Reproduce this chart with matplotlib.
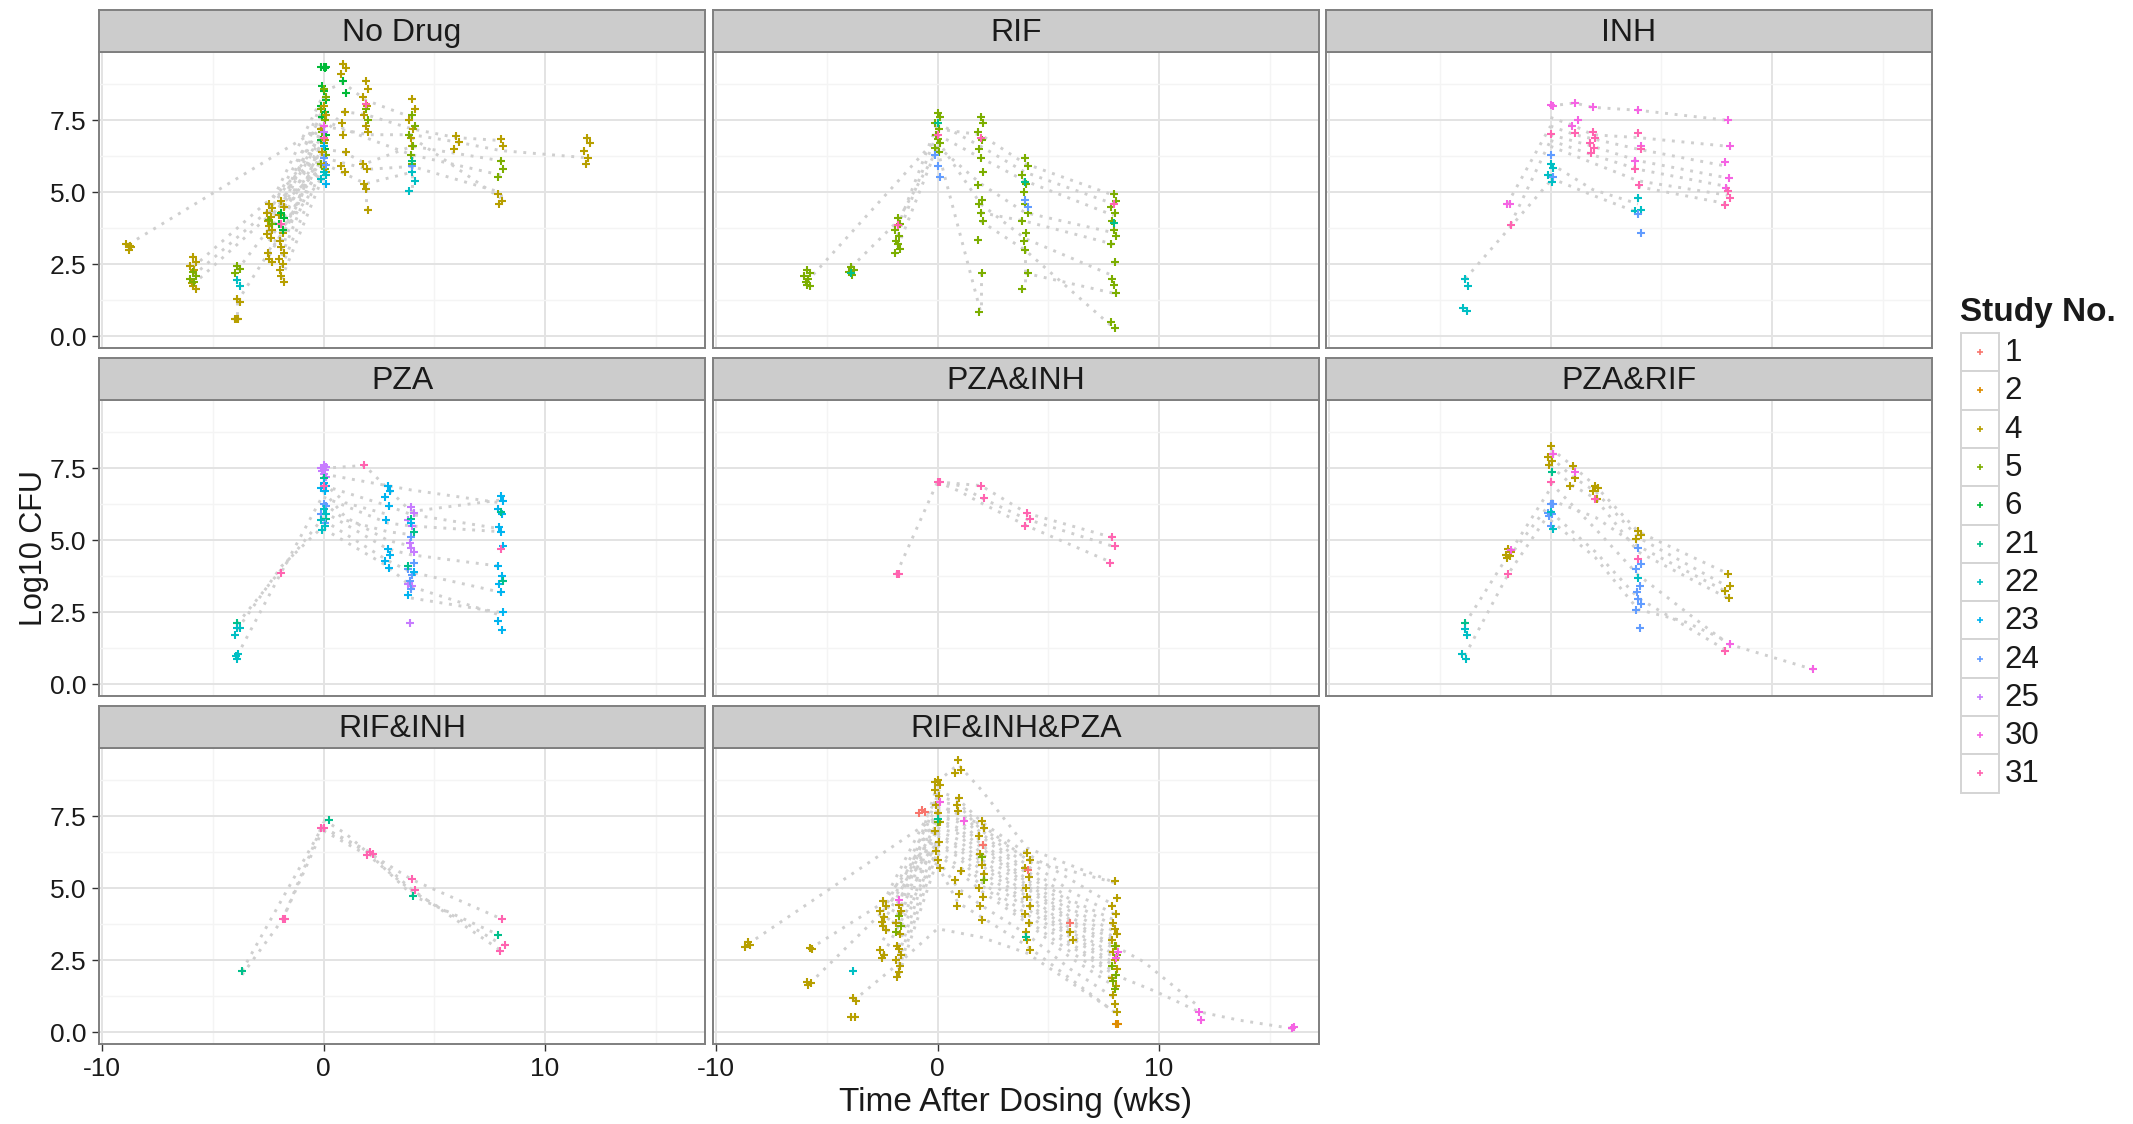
import matplotlib
matplotlib.use("Agg")
import matplotlib.pyplot as plt
from matplotlib.patches import Rectangle

# ---------------------------------------------------------------- data
study_ids = [1, 2, 4, 5, 6, 21, 22, 23, 24, 25, 30, 31]
study_colors = ["#F8766D", "#DE8C00", "#B79F00", "#7CAE00", "#00BA38", "#00C08B",
                "#00BFC4", "#00B4F0", "#619CFF", "#C77CFF", "#F564E3", "#FF64B0"]

facet_names = ["No Drug", "RIF", "INH", "PZA", "PZA&INH", "PZA&RIF",
               "RIF&INH", "RIF&INH&PZA"]

x_ticks = [-10, 0, 10]
y_ticks = [0.0, 2.5, 5.0, 7.5]
y_tick_labels = ["0.0", "2.5", "5.0", "7.5"]

# observed log10 CFU: (study, weeks after dosing, [values])
nodrug_points = [
    (4, -8.8, [3.0, 3.1, 3.2, 3.15]),
    (4, -5.9, [2.75, 2.6, 2.45, 2.3, 1.85, 1.75, 1.65]),
    (5, -5.9, [2.25, 2.1, 2.0, 1.9]),
    (5, -3.9, [2.45, 2.35, 2.2]),
    (22, -3.9, [1.95, 1.75]),
    (4, -3.9, [1.3, 1.2, 0.62, 0.6, 0.6, 0.6]),
    (4, -2.45, [4.6, 4.45, 4.3, 4.15, 4.0, 3.85, 3.7, 3.55, 3.4, 2.9, 2.7, 2.6]),
    (5, -2.45, [4.05, 3.9]),
    (4, -1.9, [4.7, 4.5, 4.2, 3.6, 3.3, 3.1, 2.9, 2.7, 2.5, 2.3, 2.1, 1.9]),
    (6, -1.9, [4.3, 4.1, 3.9, 3.7]),
    (31, -1.9, [3.9]),
    (6, 0.0, [9.35, 9.35, 9.35, 9.33, 8.7, 8.5, 8.2, 8.0, 7.8, 7.6, 7.3, 7.0, 6.8, 6.5]),
    (5, 0.0, [8.6, 8.3, 7.9, 7.5, 7.1, 6.7, 6.3, 6.0, 5.8]),
    (4, 0.0, [8.0, 7.7, 7.2, 6.8, 6.4, 6.0, 5.7]),
    (24, 0.0, [6.2, 5.95]),
    (22, 0.0, [5.7, 5.6, 5.45]),
    (23, 0.0, [6.6, 5.3]),
    (30, 0.0, [7.3]),
    (31, 0.0, [6.9]),
    (25, 0.0, [7.1]),
    (4, 0.9, [9.45, 9.3, 9.1, 7.8, 7.4, 7.0, 6.4, 5.9, 5.7]),
    (6, 0.9, [8.85, 8.45]),
    (4, 1.9, [8.85, 8.6, 8.3, 8.0, 7.7, 7.3, 7.1, 6.0, 5.8, 5.3, 5.1, 4.4]),
    (5, 1.9, [7.9, 7.5]),
    (31, 1.9, [8.05]),
    (4, 4.0, [8.25, 7.9, 7.5, 7.2, 6.9, 6.6]),
    (5, 4.0, [7.7, 7.3, 7.0, 6.6, 6.3, 6.0]),
    (22, 4.0, [5.7, 5.4, 5.05]),
    (24, 4.0, [5.9]),
    (21, 4.0, [6.1]),
    (4, 6.0, [6.95, 6.75, 6.5]),
    (4, 8.0, [6.85, 6.6, 4.95, 4.7, 4.6]),
    (5, 8.0, [6.1, 5.8, 5.55]),
    (4, 11.9, [6.9, 6.7, 6.45, 6.2, 6.0]),
]
# individual trajectories: [(weeks, log10 CFU), ...]
nodrug_paths = [
    [(-8.8, 3.2), (0.0, 7.3)],
    [(0.0, 7.3), (2.0, 7.0), (4.0, 7.0), (6.0, 6.75), (8.0, 6.45), (11.9, 6.2)],
    [(-5.9, 2.4), (0.0, 6.4)],
    [(-5.9, 1.8), (0.0, 5.9)],
    [(-5.9, 2.1), (-2.45, 4.4), (0.0, 7.0)],
    [(-3.9, 2.3), (0.0, 6.2)],
    [(-3.9, 1.2), (-2.4, 3.0), (0.0, 5.6)],
    [(-2.45, 4.0), (0.0, 7.2)],
    [(-2.45, 3.6), (0.0, 6.8)],
    [(-2.45, 2.8), (0.0, 6.3)],
    [(-2.45, 4.3), (0.0, 7.8)],
    [(-2.45, 3.3), (0.0, 6.6)],
    [(-2.45, 3.9), (0.0, 7.0)],
    [(-2.45, 3.0), (0.0, 6.0)],
    [(-1.9, 4.6), (0.0, 7.6)],
    [(-1.9, 3.3), (0.0, 6.9)],
    [(-1.9, 2.4), (0.0, 6.0)],
    [(-1.9, 2.0), (0.0, 5.6)],
    [(-1.9, 4.2), (0.0, 8.0)],
    [(-1.9, 2.8), (0.0, 6.4)],
    [(-1.9, 4.5), (0.0, 8.3)],
    [(-1.9, 3.0), (0.0, 7.0)],
    [(-1.9, 3.6), (0.0, 6.5)],
    [(-2.45, 4.5), (0.0, 8.4)],
    [(-1.9, 3.8), (0.0, 7.4)],
    [(0.0, 7.0), (0.9, 7.8), (1.9, 7.7), (4.0, 7.2), (6.0, 6.9), (8.0, 6.8)],
    [(0.0, 6.5), (0.9, 6.4), (1.9, 6.0), (4.0, 6.6), (8.0, 6.1)],
    [(0.0, 7.5), (1.9, 6.9), (4.0, 6.3), (8.0, 5.6)],
    [(0.0, 6.2), (2.0, 5.8), (4.0, 5.9), (8.0, 5.0)],
    [(0.0, 6.0), (1.9, 5.3), (4.0, 5.7)],
    [(4.0, 6.9), (8.0, 4.8)],
    [(0.0, 8.5), (0.9, 8.8), (1.9, 8.2), (4.0, 7.6)],
    [(1.9, 5.1), (1.9, 4.4)],
    [(-3.9, 1.2), (-3.9, 0.6)],
    [(8.0, 4.95), (8.0, 4.6)],
    [(4.0, 6.6), (4.0, 5.05)],
]

rif_points = [
    (5, -5.9, [2.3, 2.2, 2.1, 2.0, 1.9, 1.8, 1.75]),
    (5, -3.9, [2.4, 2.3, 2.25, 2.15]),
    (21, -3.9, [2.2]),
    (5, -1.8, [4.1, 3.9, 3.7, 3.5, 3.3, 3.2, 3.05, 2.9]),
    (31, -1.8, [3.88]),
    (5, 0.0, [7.75, 7.6, 7.4, 7.2, 7.0, 6.85, 6.7, 6.55, 6.4]),
    (21, 0.0, [7.4]),
    (24, 0.0, [5.9, 5.55, 6.3]),
    (31, 0.0, [7.0]),
    (5, 1.95, [7.6, 7.4, 7.1, 6.8, 6.5, 6.2, 5.7, 5.25, 4.75, 4.6, 4.3, 4.0, 3.35, 2.2, 0.85]),
    (31, 1.95, [6.9]),
    (5, 3.95, [6.2, 5.9, 5.6, 5.3, 5.0, 4.6, 4.3, 4.0, 3.6, 3.3, 3.0, 2.2, 1.65]),
    (21, 3.95, [5.35]),
    (24, 3.95, [4.75, 4.5]),
    (5, 7.95, [4.95, 4.7, 4.5, 4.3, 4.0, 3.7, 3.5, 3.2, 2.6, 2.0, 1.8, 1.5, 0.5, 0.3]),
    (31, 7.95, [4.6]),
    (21, 7.95, [3.95]),
]
rif_paths = [
    [(-5.9, 1.9), (0.0, 6.9)],
    [(-3.9, 2.4), (-1.8, 4.0), (0.0, 6.5)],
    [(-1.8, 3.5), (0.0, 7.1)],
    [(-1.8, 3.1), (0.0, 6.6)],
    [(-1.8, 3.8), (0.0, 7.4)],
    [(0.0, 7.2), (1.95, 7.0), (3.95, 6.0), (7.95, 4.9)],
    [(0.0, 7.4), (1.95, 6.6), (3.95, 5.7), (7.95, 4.6)],
    [(0.0, 7.0), (1.95, 6.2), (3.95, 5.4), (7.95, 4.2)],
    [(0.0, 6.6), (1.95, 5.3), (3.95, 4.3), (7.95, 3.6)],
    [(0.0, 6.8), (1.95, 4.6), (3.95, 3.4), (7.95, 2.1)],
    [(0.0, 6.5), (1.95, 0.85)],
    [(1.95, 4.0), (3.95, 3.0), (7.95, 0.3)],
    [(3.95, 2.2), (7.95, 1.5)],
    [(1.95, 4.3), (3.95, 4.0), (7.95, 3.2)],
    [(1.95, 2.2), (1.95, 0.85)],
    [(3.95, 3.0), (3.95, 1.65)],
]

inh_points = [
    (22, -3.85, [2.0, 1.75, 1.0, 0.9]),
    (30, -1.95, [4.6, 4.6]),
    (31, -1.8, [3.88]),
    (30, 0.0, [8.02, 8.0]),
    (31, 0.0, [7.04]),
    (24, 0.0, [6.3, 5.55]),
    (22, 0.0, [6.0, 5.85, 5.6, 5.35]),
    (30, 1.1, [8.1, 7.5, 7.3]),
    (31, 1.1, [7.05]),
    (30, 1.9, [7.95]),
    (31, 1.9, [7.1, 6.9, 6.7, 6.55, 6.35]),
    (30, 3.95, [7.85, 6.6, 6.1]),
    (31, 3.95, [7.05, 6.5, 5.8, 5.25]),
    (22, 3.95, [4.8, 4.4, 4.35]),
    (24, 3.95, [4.25, 3.6]),
    (30, 8.0, [7.5, 6.6, 6.05, 5.5, 5.15]),
    (31, 8.0, [5.05, 4.8, 4.55]),
]
inh_paths = [
    [(-3.85, 2.0), (0.0, 5.4)],
    [(-1.95, 4.6), (0.0, 7.3)],
    [(-1.8, 3.9), (0.0, 6.8)],
    [(0.0, 8.0), (1.1, 8.1), (1.9, 7.95), (3.95, 7.85), (8.0, 7.5)],
    [(0.0, 7.6), (1.1, 7.3), (1.9, 7.0), (3.95, 6.9), (8.0, 6.6)],
    [(0.0, 7.3), (1.1, 7.0), (3.95, 6.5), (8.0, 5.9)],
    [(0.0, 7.0), (1.9, 6.6), (3.95, 6.1), (8.0, 5.5)],
    [(0.0, 6.8), (1.9, 6.3), (3.95, 5.8), (8.0, 5.2)],
    [(0.0, 6.6), (3.95, 5.4), (8.0, 4.9)],
    [(0.0, 6.0), (1.9, 5.1), (3.95, 4.6)],
    [(0.0, 5.5), (1.9, 4.9), (3.95, 4.3)],
    [(3.95, 5.2), (8.0, 4.6)],
]

pza_points = [
    (21, -3.9, [2.15]),
    (22, -3.9, [1.95, 1.95, 1.7, 1.05, 1.0, 0.9]),
    (31, -1.9, [3.88]),
    (25, 0.0, [7.6, 7.55, 7.5, 7.45, 7.4, 7.3, 7.2]),
    (21, 0.0, [7.15, 5.75]),
    (23, 0.0, [7.0, 6.9, 6.8, 6.7]),
    (24, 0.0, [6.25, 6.2, 5.9, 5.6]),
    (22, 0.0, [6.1, 5.9, 5.7, 5.5, 5.35]),
    (31, 0.0, [6.9]),
    (31, 1.85, [7.6]),
    (23, 2.9, [6.9, 6.7, 6.5, 6.2, 5.7, 4.7, 4.5, 4.3, 4.05]),
    (25, 3.95, [6.15, 5.95, 5.7, 5.5, 4.9, 4.75, 4.6, 3.5, 3.4, 2.15]),
    (24, 3.95, [5.1, 4.2, 4.0, 3.8, 3.6, 3.3]),
    (21, 3.95, [5.75, 5.3, 4.1]),
    (23, 3.95, [5.6, 3.9, 3.1]),
    (23, 8.0, [6.55, 6.35, 6.1, 5.9, 5.45, 5.3, 4.8, 4.1, 3.75, 3.5, 3.2, 2.5, 2.2, 1.9]),
    (31, 8.0, [4.7]),
    (21, 8.0, [6.0, 3.6]),
]
pza_paths = [
    [(-3.9, 2.1), (0.0, 5.8)],
    [(-3.9, 1.0), (-1.9, 3.9), (0.0, 6.6)],
    [(-3.9, 1.9), (-1.9, 4.1), (0.0, 5.5)],
    [(0.0, 7.5), (1.85, 7.6), (2.9, 6.8), (3.95, 6.0), (8.0, 6.4)],
    [(0.0, 7.3), (3.95, 6.75), (8.0, 6.3)],
    [(0.0, 6.9), (2.9, 6.2), (3.95, 5.9), (8.0, 5.4)],
    [(0.0, 6.5), (2.9, 5.6), (3.95, 5.5), (8.0, 5.3)],
    [(0.0, 6.0), (2.9, 4.7), (3.95, 4.5), (8.0, 4.1)],
    [(0.0, 5.7), (2.9, 4.3), (3.95, 3.9), (8.0, 3.2)],
    [(0.0, 5.4), (2.9, 4.1), (3.95, 3.4), (8.0, 2.4)],
    [(0.0, 6.3), (1.0, 5.7), (2.9, 5.3), (3.95, 5.2)],
    [(0.0, 7.0), (1.0, 6.3), (2.9, 5.9)],
    [(0.0, 6.7), (1.0, 5.8), (2.9, 5.0), (3.95, 4.8)],
    [(3.95, 3.0), (8.0, 2.5)],
]

pzainh_points = [
    (31, -1.85, [3.85, 3.85]),
    (31, 0.0, [7.03, 7.03]),
    (31, 1.96, [6.9, 6.48]),
    (31, 4.05, [5.94, 5.73, 5.5]),
    (31, 7.9, [5.1, 4.8, 4.22]),
]
pzainh_paths = [
    [(-1.85, 3.85), (0.0, 7.03)],
    [(0.0, 7.03), (1.96, 6.9), (4.05, 5.94), (7.9, 5.1)],
    [(0.0, 7.03), (1.0, 6.9), (1.96, 6.48), (4.05, 5.73), (7.9, 4.8)],
    [(0.0, 7.03), (1.0, 6.7), (1.96, 6.3), (4.05, 5.5), (7.9, 4.22)],
]

pzarif_points = [
    (21, -3.87, [2.14]),
    (22, -3.87, [1.93, 1.7, 1.04, 0.87]),
    (4, -1.9, [4.7, 4.6, 4.5, 4.45, 4.4]),
    (30, -1.8, [4.65]),
    (31, -1.9, [3.85]),
    (4, 0.0, [8.28, 7.98, 7.9, 7.75, 7.6]),
    (30, 0.1, [8.0]),
    (21, 0.05, [7.37]),
    (31, 0.0, [7.03]),
    (24, 0.0, [6.27, 6.27, 5.96, 5.9, 5.85, 5.5]),
    (22, 0.0, [6.0, 5.4]),
    (4, 1.0, [7.58, 7.18, 6.89]),
    (30, 1.1, [7.37]),
    (4, 2.03, [6.89, 6.8, 6.71, 6.42]),
    (31, 2.0, [6.45]),
    (4, 3.96, [5.32, 5.2, 5.03]),
    (24, 3.96, [4.74, 4.17, 4.0, 3.41, 3.2, 2.95, 2.8, 2.6, 1.97]),
    (31, 3.96, [4.34]),
    (22, 3.96, [3.7]),
    (4, 8.0, [3.82, 3.41, 3.24, 3.0]),
    (30, 8.1, [1.41]),
    (31, 7.9, [1.16]),
    (30, 11.87, [0.52]),
]
pzarif_paths = [
    [(-3.87, 2.1), (-1.9, 4.5), (0.0, 6.8)],
    [(-3.87, 1.0), (-1.9, 3.85), (0.0, 6.0)],
    [(-1.9, 4.4), (0.0, 6.3)],
    [(0.0, 8.2), (1.0, 7.58), (2.03, 6.89), (3.96, 5.3), (8.0, 3.85)],
    [(0.0, 7.9), (1.0, 7.2), (2.03, 6.7), (3.96, 5.1), (8.0, 3.4)],
    [(0.0, 7.6), (1.0, 6.9), (2.03, 6.45), (3.96, 4.6), (8.0, 3.0)],
    [(0.0, 7.0), (2.03, 5.4), (3.96, 3.8), (8.0, 1.41), (11.87, 0.52)],
    [(0.0, 6.0), (1.0, 5.3), (2.03, 4.6), (3.96, 3.0), (8.0, 1.16)],
    [(0.0, 5.7), (2.03, 4.4), (3.96, 2.6), (6.0, 2.2), (8.0, 1.5)],
    [(0.0, 6.4), (2.03, 5.8), (3.96, 4.8), (8.0, 3.2)],
]

rifinh_points = [
    (21, -3.68, [2.14]),
    (31, -1.84, [3.93, 3.93]),
    (31, -0.1, [7.1, 7.1]),
    (21, 0.25, [7.38]),
    (31, 2.1, [6.26, 6.2, 6.17]),
    (31, 4.0, [5.33, 4.95]),
    (21, 4.05, [4.74]),
    (31, 8.07, [3.93, 3.04, 2.81]),
    (21, 7.9, [3.39]),
]
rifinh_paths = [
    [(-3.68, 2.14), (0.0, 7.2)],
    [(-1.84, 3.93), (0.0, 7.1)],
    [(-3.68, 2.0), (-1.84, 3.93), (0.0, 7.3)],
    [(0.0, 7.1), (2.1, 6.2), (4.0, 5.3), (8.07, 3.93)],
    [(0.0, 7.38), (1.0, 6.9), (2.1, 6.17), (4.05, 4.74), (7.9, 3.39)],
    [(0.0, 7.1), (2.1, 6.26), (4.0, 4.95), (8.07, 2.81)],
    [(0.0, 7.0), (2.1, 6.1), (4.0, 4.9), (8.07, 3.04)],
]

rip_points = [
    (4, -8.57, [3.15, 3.05, 2.98]),
    (4, -5.77, [2.92, 2.9, 1.76, 1.7, 1.65]),
    (22, -3.8, [2.14]),
    (4, -3.8, [1.19, 1.1, 0.55, 0.55]),
    (4, -2.46, [4.55, 4.4, 4.2, 4.0, 3.85, 3.7, 3.55, 2.86, 2.7, 2.58]),
    (4, -1.75, [4.43, 4.2, 3.8, 3.4, 3.0, 2.9, 2.7, 2.5, 2.3, 1.94, 2.1]),
    (5, -1.75, [4.05, 3.7, 3.5]),
    (30, -1.75, [4.6]),
    (1, -0.7, [7.73, 7.65, 7.62]),
    (4, 0.0, [8.77, 8.6, 8.4, 8.2, 7.9, 7.6, 7.3, 7.0, 6.6, 6.3, 6.0, 5.7, 8.7]),
    (30, 0.1, [8.0]),
    (5, 0.0, [7.3]),
    (21, 0.0, [7.4]),
    (4, 0.93, [9.47, 9.12, 9.0, 8.13, 7.9, 7.67, 5.6, 5.3, 4.8, 4.4]),
    (30, 1.2, [7.33]),
    (4, 2.0, [7.33, 7.1, 6.8, 6.5, 6.2, 5.8, 5.5, 5.0, 4.7, 4.4, 3.91]),
    (1, 2.05, [6.5]),
    (5, 2.0, [6.1, 5.3]),
    (4, 4.05, [6.23, 6.0, 5.7, 5.4, 5.0, 4.7, 4.4, 4.1, 3.8, 3.5, 3.2, 2.86]),
    (1, 4.1, [5.64]),
    (21, 4.0, [3.3]),
    (1, 6.0, [3.79]),
    (4, 6.0, [3.5, 3.2]),
    (4, 8.0, [5.24, 4.66, 4.4, 4.1, 3.8, 3.6, 3.4, 3.2, 3.0, 2.8, 2.5, 2.2, 1.9, 1.6, 1.3, 1.0, 0.72]),
    (5, 8.0, [3.0, 2.7, 2.3, 2.0, 1.8, 1.5]),
    (30, 8.05, [2.6, 2.8]),
    (2, 8.05, [0.31, 0.31]),
    (30, 11.8, [0.72, 0.43]),
    (30, 16.0, [0.14, 0.2]),
]
rip_paths = [
    [(-8.57, 3.06), (0.0, 7.5)],
    [(-5.77, 1.7), (-2.46, 4.2), (0.0, 6.6)],
    [(-5.77, 2.9), (-2.46, 4.5), (0.0, 7.0)],
    [(-3.8, 1.1), (-1.75, 2.4), (0.0, 3.6), (2.0, 3.3), (4.05, 2.75), (8.0, 0.72)],
    [(8.0, 3.0), (9.3, 2.46), (11.8, 0.9)],
    [(8.0, 2.0), (9.86, 1.42), (11.8, 0.72), (13.6, 0.43), (16.0, 0.14)],
    [(-2.46, 4.5), (0.0, 8.2)],
    [(-2.46, 4.2), (0.0, 7.9)],
    [(-2.46, 4.0), (0.0, 7.6)],
    [(-2.46, 3.8), (0.0, 7.3)],
    [(-2.46, 3.6), (0.0, 7.0)],
    [(-2.46, 3.2), (0.0, 6.6)],
    [(-2.46, 2.7), (0.0, 6.2)],
    [(-1.75, 4.4), (0.0, 8.6)],
    [(-1.75, 4.1), (0.0, 8.3)],
    [(-1.75, 3.8), (0.0, 7.8)],
    [(-1.75, 3.4), (0.0, 7.5)],
    [(-1.75, 3.0), (0.0, 7.2)],
    [(-1.75, 2.7), (0.0, 6.8)],
    [(-1.75, 2.5), (0.0, 6.5)],
    [(-1.75, 2.2), (0.0, 6.3)],
    [(-1.75, 2.0), (0.0, 6.0)],
    [(0.0, 8.7), (0.93, 9.3), (2.0, 8.4), (4.05, 6.4), (8.0, 5.2)],
    [(0.0, 8.4), (0.93, 8.1), (2.0, 7.3), (4.05, 6.2), (8.0, 4.4)],
    [(0.0, 8.2), (0.93, 8.0), (2.0, 7.1), (4.05, 6.0), (6.0, 4.9), (8.0, 4.1)],
    [(0.0, 8.0), (0.93, 7.9), (2.0, 7.0), (4.05, 5.8), (6.0, 4.6), (8.0, 3.9)],
    [(0.0, 7.8), (0.93, 7.7), (2.0, 6.9), (4.05, 5.6), (6.0, 4.5), (8.0, 3.7)],
    [(0.0, 7.7), (0.93, 7.6), (2.0, 6.8), (4.05, 5.5), (6.0, 4.3), (8.0, 3.5)],
    [(0.0, 7.6), (0.93, 7.4), (2.0, 6.6), (4.05, 5.3), (6.0, 4.2), (8.0, 3.3)],
    [(0.0, 7.5), (0.93, 7.3), (2.0, 6.5), (4.05, 5.2), (6.0, 4.0), (8.0, 3.2)],
    [(0.0, 7.4), (0.93, 7.1), (2.0, 6.4), (4.05, 5.1), (6.0, 3.9), (8.0, 3.0)],
    [(0.0, 7.3), (0.93, 7.0), (2.0, 6.2), (4.05, 5.0), (6.0, 3.8), (8.0, 2.9)],
    [(0.0, 7.1), (0.93, 6.9), (2.0, 6.0), (4.05, 4.8), (6.0, 3.6), (8.0, 2.7)],
    [(0.0, 7.0), (0.93, 6.7), (2.0, 5.9), (4.05, 4.7), (6.0, 3.5), (8.0, 2.6)],
    [(0.0, 6.9), (0.93, 6.5), (2.0, 5.8), (4.05, 4.5), (6.0, 3.4), (8.0, 2.4)],
    [(0.0, 6.8), (0.93, 6.4), (2.0, 5.6), (4.05, 4.4), (6.0, 3.3), (8.0, 2.3)],
    [(0.0, 6.6), (0.93, 6.2), (2.0, 5.4), (4.05, 4.3), (6.0, 3.1), (8.0, 2.1)],
    [(0.0, 6.5), (0.93, 6.1), (2.0, 5.2), (4.05, 4.1), (6.0, 3.0), (8.0, 2.0)],
    [(0.0, 6.3), (0.93, 5.8), (2.0, 5.1), (4.05, 3.9), (6.0, 2.8), (8.0, 1.8)],
    [(0.0, 6.2), (0.93, 5.6), (2.0, 4.9), (4.05, 3.8), (6.0, 2.6), (8.0, 1.6)],
    [(0.0, 6.0), (0.93, 5.0), (2.0, 4.4), (4.05, 3.4), (6.0, 2.2), (8.0, 1.2)],
    [(0.0, 5.8), (0.93, 4.5), (2.0, 4.0), (4.05, 3.0), (8.0, 0.7)],
    [(0.0, 7.9), (2.0, 7.2), (4.05, 6.0), (8.0, 5.2)],
]

facet_points = [nodrug_points, rif_points, inh_points, pza_points,
                pzainh_points, pzarif_points, rifinh_points, rip_points]
facet_paths = [nodrug_paths, rif_paths, inh_paths, pza_paths,
               pzainh_paths, pzarif_paths, rifinh_paths, rip_paths]

# ---------------------------------------------------------------- style
W, H, DPI = 2133, 1124, 100
plt.rcParams["font.family"] = ["Liberation Sans", "DejaVu Sans"]

X_LIM = (-10.14, 17.23)
Y_LIM = (-0.40, 9.87)
DODGE = (0.0, 0.12, -0.12, 0.06, -0.06)     # small horizontal spread within a cluster
PATH_COLOR = "#CFCFCF"
BORDER = "#7F7F7F"
TEXT = "#1A1A1A"

col_left = [99, 713, 1326]
panel_w = 606
row_top = [52, 400, 748]
panel_h = 296
strip_h = 42

color_of = dict(zip(study_ids, study_colors))

fig = plt.figure(figsize=(W / DPI, H / DPI), dpi=DPI)


def px_axes(x0, y0, w, h):
    return fig.add_axes([x0 / W, 1 - (y0 + h) / H, w / W, h / H])


for i, name in enumerate(facet_names):
    r, c = divmod(i, 3)
    ax = px_axes(col_left[c], row_top[r], panel_w, panel_h)
    ax.set_xlim(*X_LIM)
    ax.set_ylim(*Y_LIM)
    ax.set_xticks(x_ticks)
    ax.set_xticks([-5, 5, 15], minor=True)
    ax.set_yticks(y_ticks)
    ax.set_yticks([1.25, 3.75, 6.25, 8.75], minor=True)
    ax.grid(which="major", color="#E3E3E3", lw=1.4)
    ax.grid(which="minor", color="#F4F4F4", lw=1.0)
    ax.set_axisbelow(True)
    for s in ax.spines.values():
        s.set_color(BORDER)
        s.set_linewidth(1.4)

    for path in facet_paths[i]:
        ts = [p[0] for p in path]
        vs = [p[1] for p in path]
        ax.plot(ts, vs, color=PATH_COLOR, lw=2.1, linestyle=(0, (1, 2.3)),
                dash_capstyle="butt", zorder=2)

    for study, t, vals in facet_points[i]:
        xs = [t + DODGE[k % len(DODGE)] for k in range(len(vals))]
        ax.plot(xs, vals, linestyle="none", marker="+", ms=5.2, mew=1.5,
                color=color_of[study], zorder=3)

    ax.tick_params(which="minor", length=0)
    ax.tick_params(which="major", length=5, width=1.0, color="#333333",
                   labelsize=19, labelcolor=TEXT, pad=4)
    if c == 0:
        ax.set_yticklabels(y_tick_labels)
    else:
        ax.tick_params(axis="y", which="major", length=0, labelleft=False)
    if i in (6, 7):
        ax.set_xticklabels([str(v) for v in x_ticks])
    else:
        ax.tick_params(axis="x", which="major", length=0, labelbottom=False)

    sax = px_axes(col_left[c], row_top[r] - strip_h, panel_w, strip_h)
    sax.set_facecolor("#CCCCCC")
    sax.set_xticks([])
    sax.set_yticks([])
    for s in sax.spines.values():
        s.set_color(BORDER)
        s.set_linewidth(1.4)
    sax.text(0.5, 0.45, name, ha="center", va="center", fontsize=23,
             color=TEXT, transform=sax.transAxes)

# axis titles
fig.text((col_left[0] + col_left[2] + panel_w) / 2 / W, 1 - 1103 / H,
         "Time After Dosing (wks)", ha="center", va="center",
         fontsize=24, color=TEXT)
fig.text(34 / W, 1 - 548 / H, "Log10 CFU", rotation=90, ha="center",
         va="center", fontsize=22, color=TEXT)

# legend
lax = fig.add_axes([0, 0, 1, 1], facecolor="none")
lax.set_xlim(0, W)
lax.set_ylim(H, 0)
lax.axis("off")
lax.text(1960, 313, "Study No.", ha="left", va="center", fontsize=24,
         fontweight="bold", color=TEXT)
key_x, key_top, key_size = 1961, 333, 38.3
for k, (sid, col) in enumerate(zip(study_ids, study_colors)):
    y0 = key_top + k * key_size
    lax.add_patch(Rectangle((key_x, y0), key_size, key_size, facecolor="white",
                            edgecolor="#D4D4D4", lw=1.4))
    lax.plot([key_x + key_size / 2], [y0 + key_size / 2], marker="+", ms=4,
             mew=1.2, color=col, linestyle="none")
    lax.text(key_x + key_size + 5, y0 + key_size / 2 + 1, str(sid), ha="left",
             va="center", fontsize=22.5, color=TEXT)

fig.savefig("out.png", dpi=DPI)
